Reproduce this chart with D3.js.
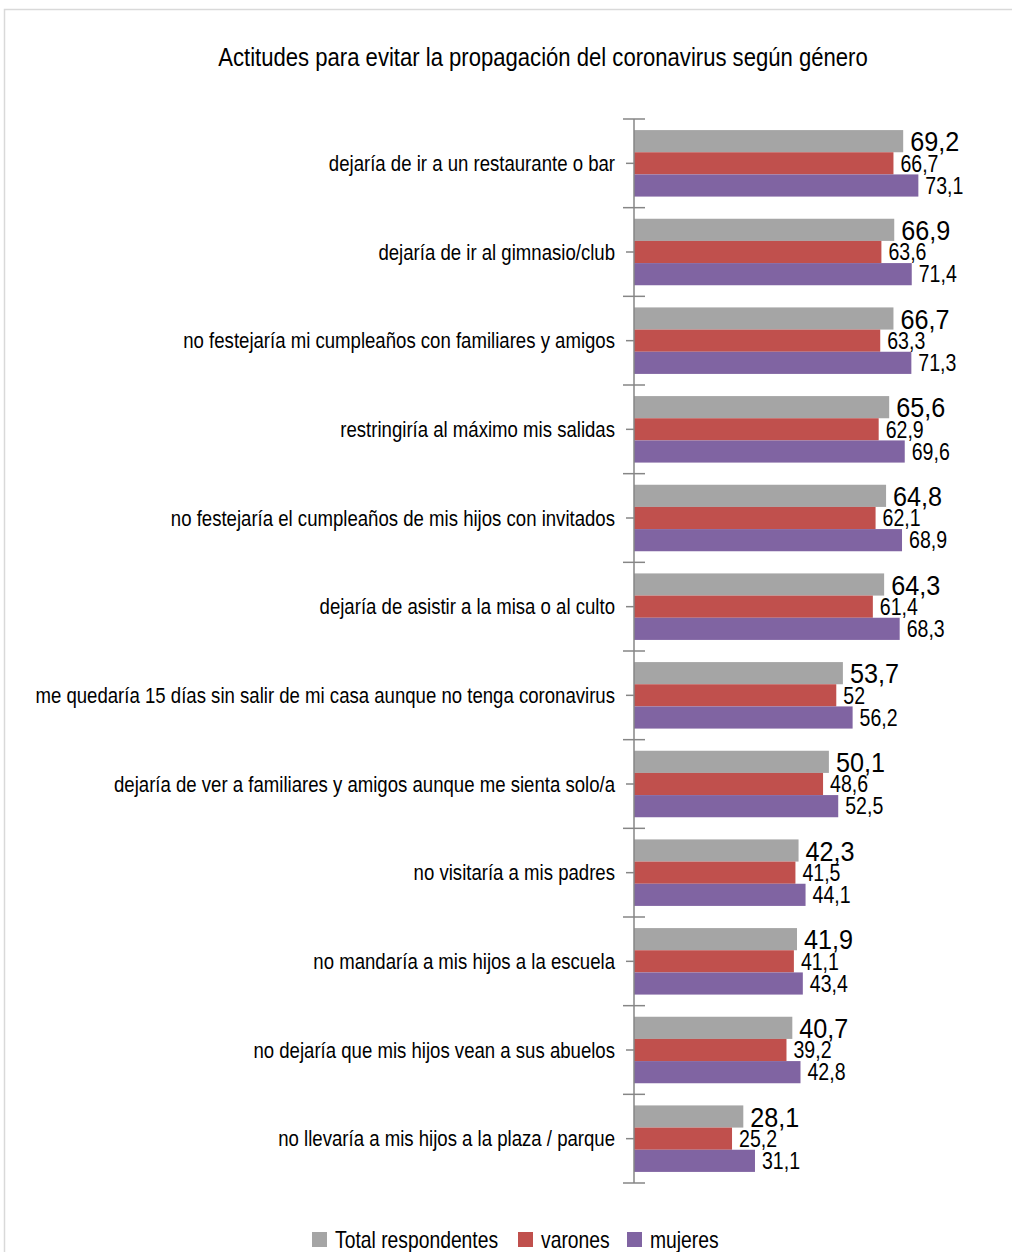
<!DOCTYPE html>
<html><head><meta charset="utf-8">
<script src="https://cdn.jsdelivr.net/npm/d3@7"></script>
<style>
body{margin:0;background:#fff;}
svg{display:block;}
text{font-family:"Liberation Sans",Arial,sans-serif;fill:#000;}
</style></head><body>
<svg id="c" width="1012" height="1252"></svg>
<script>
const categories = [
  "dejaría de ir a un restaurante o bar",
  "dejaría de ir al gimnasio/club",
  "no festejaría mi cumpleaños con familiares y amigos",
  "restringiría al máximo mis salidas",
  "no festejaría el cumpleaños de mis hijos con invitados",
  "dejaría de asistir a la misa o al culto",
  "me quedaría 15 días sin salir de mi casa aunque no tenga coronavirus",
  "dejaría de ver a familiares y amigos aunque me sienta solo/a",
  "no visitaría a mis padres",
  "no mandaría a mis hijos a la escuela",
  "no dejaría que mis hijos vean a sus abuelos",
  "no llevaría a mis hijos a la plaza / parque"
];
const seriesNames = ["Total respondentes", "varones", "mujeres"];
const total   = [69.2, 66.9, 66.7, 65.6, 64.8, 64.3, 53.7, 50.1, 42.3, 41.9, 40.7, 28.1];
const varones = [66.7, 63.6, 63.3, 62.9, 62.1, 61.4, 52, 48.6, 41.5, 41.1, 39.2, 25.2];
const mujeres = [73.1, 71.4, 71.3, 69.6, 68.9, 68.3, 56.2, 52.5, 44.1, 43.4, 42.8, 31.1];
const colors = ["#a5a5a5", "#c0504d", "#8064a2"];
const title = "Actitudes para evitar la propagación del coronavirus según género";

const seriesData = [total, varones, mujeres];
const svg = d3.select("#c");

// condensed text helper: horizontally compressed real text
function ctext(parent, px, py, str, size, sx, anchor) {
  return parent.append("text")
    .attr("transform", `translate(${px},${py}) scale(${sx},1)`)
    .attr("text-anchor", anchor || "start")
    .style("font-size", size + "px")
    .text(str);
}

// frame
svg.append("rect").attr("x",4.5).attr("y",9.5).attr("width",1030).attr("height",1270)
  .attr("fill","none").attr("stroke","#d9d9d9").attr("stroke-width",1.5);

ctext(svg, 543, 66, title, 26, 0.85, "middle");

const x0 = 634, plotTop = 119, plotBottom = 1183;
const x = d3.scaleLinear().domain([0, 100]).range([x0, x0 + 389]);
const y = d3.scaleBand().domain(categories).range([plotTop, plotBottom]).paddingInner(0.25).paddingOuter(0.125);
const ys = d3.scaleBand().domain(d3.range(3)).range([0, y.bandwidth()]);

// bars
categories.forEach((c, i) => {
  const g = svg.append("g");
  seriesData.forEach((s, k) => {
    g.append("rect").attr("x", x(0)).attr("y", y(c) + ys(k))
      .attr("width", x(s[i]) - x(0)).attr("height", ys.bandwidth())
      .attr("fill", colors[k]);
  });
});

// boundary (major) ticks
const bounds = d3.range(categories.length + 1).map(i => plotTop + i * y.step());
svg.append("g").selectAll("line").data(bounds).join("line")
  .attr("x1", x0 - 11).attr("x2", x0 + 11).attr("y1", d => d).attr("y2", d => d)
  .attr("stroke", "#868686").attr("stroke-width", 1.5);

// axis line + category ticks
svg.append("line").attr("x1", x0).attr("x2", x0).attr("y1", plotTop).attr("y2", plotBottom)
  .attr("stroke", "#868686").attr("stroke-width", 1.5);
svg.append("g").selectAll("line").data(categories).join("line")
  .attr("x1", x0 - 8).attr("x2", x0).attr("y1", d => y(d) + y.bandwidth()/2).attr("y2", d => y(d) + y.bandwidth()/2)
  .attr("stroke", "#868686").attr("stroke-width", 1.5);

// category labels
const cl = svg.append("g");
categories.forEach(c => {
  ctext(cl, x0 - 19, y(c) + y.bandwidth()/2 + 7.5, c, 22, 0.845, "end");
});

// value labels
const fmt = v => String(v).replace(".", ",");
const vl = svg.append("g");
categories.forEach((c, i) => {
  seriesData.forEach((s, k) => {
    const big = k === 0;
    const size = big ? 28 : 23;
    ctext(vl, x(s[i]) + 7, y(c) + ys(k) + ys.bandwidth()/2 + size * 0.36,
          fmt(s[i]), size, big ? 0.9 : 0.85, "start");
  });
});

// legend
const legX = [312, 518, 627];
const lg = svg.append("g");
seriesNames.forEach((n, k) => {
  lg.append("rect").attr("x", legX[k]).attr("y", 1232).attr("width", 15).attr("height", 15).attr("fill", colors[k]);
  ctext(lg, legX[k] + 23, 1248, n, 23, 0.84, "start");
});
</script></body></html>
